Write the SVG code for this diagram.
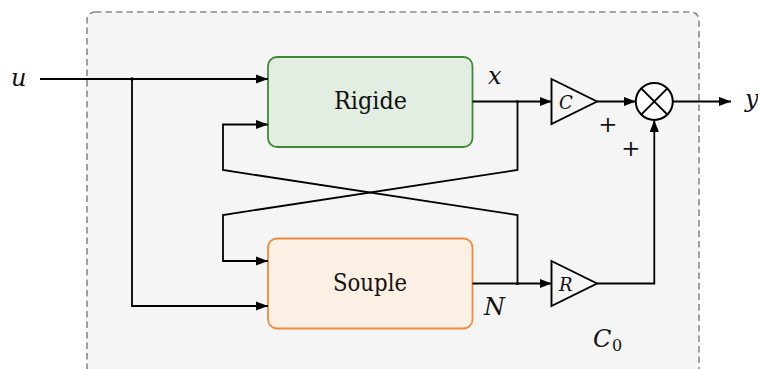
<svg xmlns="http://www.w3.org/2000/svg" width="758" height="369" viewBox="0 0 758 369">
  <style>
    .wire { fill: none; stroke: #000; stroke-width: 1.8; stroke-linejoin: miter; }
    .block { stroke-width: 1.8; }
    .gain { fill: none; stroke: #000; stroke-width: 1.9; stroke-linejoin: miter; }
    text { font-family: "DejaVu Serif", serif; fill: #111; }
    .math { font-style: italic; }
  </style>
  <defs>
    <marker id="arrow" markerUnits="userSpaceOnUse" markerWidth="13" markerHeight="11" refX="12" refY="5" orient="auto">
      <path d="M0,0.4 L12,5 L0,9.6 z" fill="#000"/>
    </marker>
  </defs>

  <!-- controller boundary C0 -->
  <g id="controller">
    <rect x="87" y="12" width="612" height="390" rx="8" ry="8" fill="#f5f5f5" stroke="#8a8a8a" stroke-width="1.6" stroke-dasharray="6.5 4"/>
    <text class="math" x="593" y="346.5" font-size="24">C</text>
    <text x="612" y="351" font-size="16">0</text>
  </g>

  <!-- rigid part -->
  <g id="rigide">
    <rect class="block" x="268" y="57" width="204.5" height="90" rx="9" ry="9" fill="#e2eee1" stroke="#3d8a33"/>
    <text x="370.5" y="108.5" text-anchor="middle" font-size="24" textLength="73" lengthAdjust="spacingAndGlyphs">Rigide</text>
  </g>

  <!-- flexible part -->
  <g id="souple">
    <rect class="block" x="268" y="238.5" width="204.5" height="90" rx="9" ry="9" fill="#fcefe3" stroke="#f28a3d"/>
    <text x="370" y="290.5" text-anchor="middle" font-size="24" textLength="74" lengthAdjust="spacingAndGlyphs">Souple</text>
  </g>

  <!-- gain C -->
  <g id="gain-c">
    <path class="gain" d="M551.5,79 L597,101.5 L551.5,124 z"/>
    <text class="math" x="559" y="108.5" font-size="18">C</text>
  </g>

  <!-- gain R -->
  <g id="gain-r">
    <path class="gain" d="M551.5,261 L597,283.5 L551.5,306 z"/>
    <text class="math" x="559" y="291" font-size="18">R</text>
  </g>

  <!-- summing junction with its two + inputs -->
  <g id="sum">
    <circle cx="654.3" cy="101.5" r="18.5" fill="#fff" stroke="#000" stroke-width="2"/>
    <path d="M641.2,88.4 L667.4,114.6 M667.4,88.4 L641.2,114.6" stroke="#000" stroke-width="2"/>
    <text x="608" y="132" text-anchor="middle" font-size="23">+</text>
    <text x="631" y="155.5" text-anchor="middle" font-size="23">+</text>
  </g>

  <!-- signal names -->
  <g id="signals" font-size="24">
    <text class="math" x="11" y="86">u</text>
    <text class="math" x="488" y="84">x</text>
    <text class="math" x="484" y="314.5">N</text>
    <text class="math" x="745" y="107">y</text>
  </g>

  <!-- connectors -->
  <g id="connectors">
    <path class="wire" d="M40,79 H268" marker-end="url(#arrow)"/>
    <path class="wire" d="M132,79 V306 H268" marker-end="url(#arrow)"/>
    <path class="wire" d="M472.5,101.5 H551.5" marker-end="url(#arrow)"/>
    <path class="wire" d="M517.5,101.5 V170 L223,215 V261 H268" marker-end="url(#arrow)"/>
    <path class="wire" d="M472.5,283.5 H551.5" marker-end="url(#arrow)"/>
    <path class="wire" d="M517.5,283.5 V215 L223,170 V124.5 H268" marker-end="url(#arrow)"/>
    <path class="wire" d="M597,101.5 H635.8" marker-end="url(#arrow)"/>
    <path class="wire" d="M597,283.5 H654.3 V120" marker-end="url(#arrow)"/>
    <path class="wire" d="M672.8,101.5 H731" marker-end="url(#arrow)"/>
    <circle cx="132" cy="79" r="1.8" fill="#000"/>
    <circle cx="517.5" cy="101.5" r="1.6" fill="#000"/>
    <circle cx="517.5" cy="283.5" r="1.6" fill="#000"/>
  </g>
</svg>
